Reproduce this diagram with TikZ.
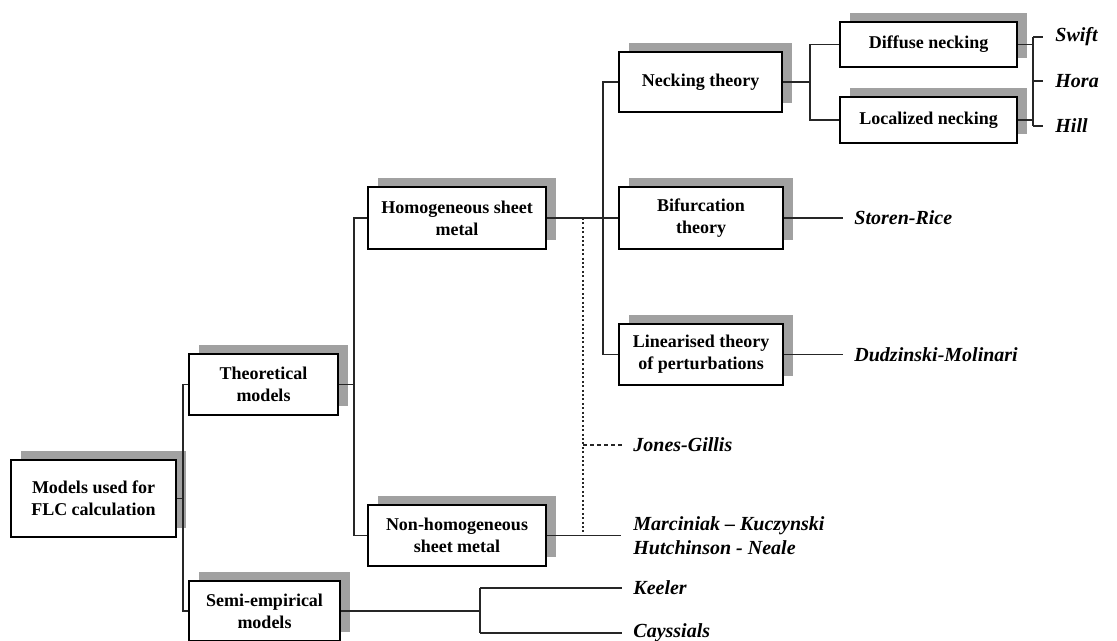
\documentclass[tikz,border=0pt]{standalone}
\usepackage{fontspec}
\setmainfont{Liberation Serif}
\usetikzlibrary{shadows}
\tikzset{
  box/.style={draw=black, line width=0.9pt, fill=white, align=center,
    font=\bfseries\fontsize{9}{11}\selectfont, inner sep=0pt,
    general shadow={fill=black!37, shadow xshift=5pt, shadow yshift=4.5pt}},
  conn/.style={line width=0.6pt, draw=black!85},
  dotv/.style={line width=0.6pt, draw=black!85, dash pattern=on 1pt off 1.2pt},
  dashh/.style={line width=0.6pt, draw=black!85, dash pattern=on 2pt off 1.5pt},
  lbl/.style={anchor=west, inner sep=0pt, font=\bfseries\itshape\fontsize{10}{12}\selectfont}
}
\begin{document}
\begin{tikzpicture}[x=0.5pt,y=-0.5pt]
\useasboundingbox (0,0) rectangle (1117,641);
% boxes
\node[box, minimum width=82.5pt, minimum height=38.5pt] (flc) at (93.5,498.5) {Models used for\\FLC calculation};
\node[box, minimum width=74.5pt, minimum height=30.5pt] (theo) at (263.5,384.5) {Theoretical\\models};
\node[box, minimum width=75.5pt, minimum height=30pt] (semi) at (264.5,611) {Semi-empirical\\models};
\node[box, minimum width=89pt, minimum height=31pt] (homo) at (457,218) {Homogeneous sheet\\metal};
\node[box, minimum width=89pt, minimum height=30.5pt] (nonhomo) at (457,535.5) {Non-homogeneous\\sheet metal};
\node[box, minimum width=81.5pt, minimum height=30pt] (neck) at (700.5,82) {Necking theory};
\node[box, minimum width=82pt, minimum height=31pt] (bif) at (701,218) {Bifurcation\\theory};
\node[box, minimum width=82pt, minimum height=30.5pt] (lin) at (701,354.5) {Linearised theory\\of perturbations};
\node[box, minimum width=88.5pt, minimum height=22.5pt] (diff) at (928.5,44.5) {Diffuse necking};
\node[box, minimum width=88.5pt, minimum height=23pt] (loc) at (928.5,120) {Localized necking};
% junction coordinates
\coordinate (j1) at (183,498.5);
\coordinate (j2) at (354,384.5);
\coordinate (j3) at (603,218);
\coordinate (j4) at (480,611);
\coordinate (j5) at (810,82);
\coordinate (d1) at (1033,44.5);
\coordinate (d2) at (1033,120);
\coordinate (t1) at (1033,37);
\coordinate (t2) at (1033,81);
\coordinate (t3) at (1033,126);
\coordinate (e1) at (1043,37);
\coordinate (e2) at (1043,81);
\coordinate (e3) at (1043,126);
\coordinate (dt) at (583,218);
\coordinate (db) at (583,535.5);
\coordinate (dj) at (583,445);
\coordinate (jg) at (622,445);
\coordinate (mk) at (621,535.5);
\coordinate (sr) at (843,218);
\coordinate (dm) at (843,354.5);
\coordinate (kj) at (480,588);
\coordinate (cj) at (480,633);
\coordinate (ke) at (622,588);
\coordinate (ce) at (622,633);
% labels
\node[lbl] (swift) at (1055,37) {Swift};
\node[lbl] (hora) at (1055,81) {Hora};
\node[lbl] (hill) at (1055,126) {Hill};
\node[lbl] (storen) at (854,218) {Storen-Rice};
\node[lbl] (dudz) at (854,354.5) {Dudzinski-Molinari};
\node[lbl] (jones) at (633,445) {Jones-Gillis};
\node[lbl, align=left] (marc) at (633,535.5) {Marciniak -- Kuczynski\\Hutchinson - Neale};
\node[lbl] (keeler) at (633,588) {Keeler};
\node[lbl] (cayss) at (633,633) {Cayssials};
% connectors
\draw[conn] (flc.east) -- (j1);
\draw[conn] (theo.west) -| (j1) |- (semi.west);
\draw[conn] (theo.east) -- (j2);
\draw[conn] (homo.west) -| (j2) |- (nonhomo.west);
\draw[conn] (homo.east) -- (bif.west);
\draw[conn] (neck.west) -| (j3) |- (lin.west);
\draw[conn] (neck.east) -- (j5);
\draw[conn] (diff.west) -| (j5) |- (loc.west);
\draw[conn] (diff.east) -- (d1);
\draw[conn] (loc.east) -- (d2);
\draw[conn] (t1) -- (t3);
\draw[conn] (t1) -- (e1);
\draw[conn] (t2) -- (e2);
\draw[conn] (t3) -- (e3);
\draw[conn] (bif.east) -- (sr);
\draw[conn] (lin.east) -- (dm);
\draw[dotv] (dt) -- (db);
\draw[dashh] (dj) -- (jg);
\draw[conn] (nonhomo.east) -- (mk);
\draw[conn] (semi.east) -- (j4);
\draw[conn] (kj) -- (cj);
\draw[conn] (kj) -- (ke);
\draw[conn] (cj) -- (ce);
\end{tikzpicture}
\end{document}
